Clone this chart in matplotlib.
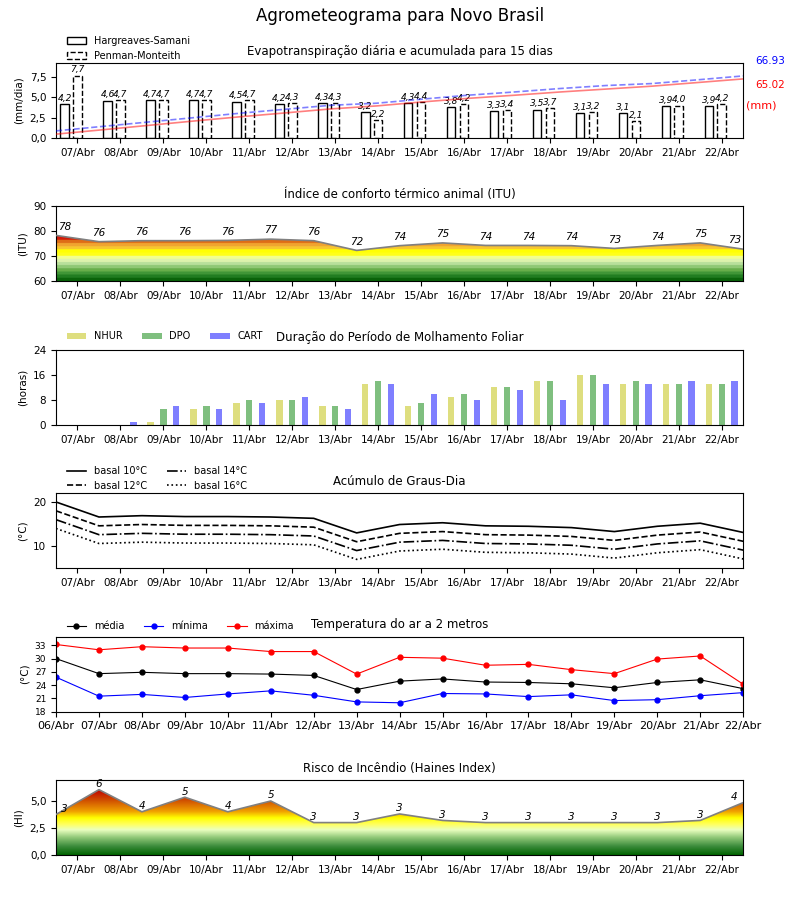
import matplotlib
matplotlib.use('Agg')
import matplotlib.pyplot as plt
import numpy as np
from matplotlib.colors import LinearSegmentedColormap
from matplotlib.patches import Polygon, Patch
from matplotlib.ticker import FuncFormatter

# Datas
datas = ['06/Abr', '07/Abr', '08/Abr', '09/Abr', '10/Abr', '11/Abr', '12/Abr', '13/Abr', '14/Abr',
         '15/Abr', '16/Abr', '17/Abr', '18/Abr', '19/Abr', '20/Abr', '21/Abr', '22/Abr']
dias = datas[1:]

# Evapotranspiracao (mm/dia)
et_hs = [4.2, 4.6, 4.7, 4.7, 4.5, 4.2, 4.3, 3.2, 4.3, 3.8, 3.3, 3.5, 3.1, 3.1, 3.9, 3.9]
et_pm = [7.7, 4.7, 4.7, 4.7, 4.7, 4.3, 4.3, 2.2, 4.4, 4.2, 3.4, 3.7, 3.2, 2.1, 4.0, 4.2]
et_total_hs = 65.02
et_total_pm = 66.93

# ITU
itu = [78.4, 75.9, 76.3, 76.3, 76.4, 76.9, 76.3, 72.4, 74.3, 75.4, 74.4, 74.4, 74.3, 73.2, 74.4, 75.4, 72.9]

# Molhamento foliar (horas)
nhur = [0, 0, 1, 5, 7, 8, 6, 13, 6, 9, 12, 14, 16, 13, 13, 13]
dpo = [0, 0, 5, 6, 8, 8, 6, 14, 7, 10, 12, 14, 16, 14, 13, 13]
cart = [0, 1, 6, 5, 7, 9, 5, 13, 10, 8, 11, 8, 13, 13, 14, 14]

# Graus-dia
gd10 = [20.0, 16.6, 16.9, 16.7, 16.7, 16.6, 16.3, 13.0, 14.9, 15.3, 14.6, 14.5, 14.2, 13.3, 14.5, 15.2, 13.1]
gd12 = [18.0, 14.6, 14.9, 14.7, 14.7, 14.6, 14.3, 11.0, 12.9, 13.3, 12.6, 12.5, 12.2, 11.3, 12.5, 13.2, 11.1]
gd14 = [16.0, 12.6, 12.9, 12.7, 12.7, 12.6, 12.3, 9.0, 10.9, 11.3, 10.6, 10.5, 10.2, 9.3, 10.5, 11.2, 9.1]
gd16 = [14.0, 10.6, 10.9, 10.7, 10.7, 10.6, 10.3, 7.0, 8.9, 9.3, 8.6, 8.5, 8.2, 7.3, 8.5, 9.2, 7.1]

# Temperatura do ar (C)
tmed = [30.0, 26.6, 26.9, 26.6, 26.6, 26.5, 26.2, 23.0, 24.9, 25.4, 24.7, 24.6, 24.3, 23.4, 24.6, 25.2, 23.2]
tmin = [25.8, 21.5, 21.9, 21.2, 22.0, 22.7, 21.7, 20.2, 20.0, 22.1, 22.0, 21.4, 21.8, 20.5, 20.7, 21.6, 22.3]
tmax = [33.2, 32.0, 32.7, 32.4, 32.4, 31.6, 31.6, 26.5, 30.3, 30.1, 28.5, 28.7, 27.5, 26.6, 29.9, 30.6, 24.2]

# Haines
haines = [3.75, 6.05, 4.0, 5.35, 4.0, 5.0, 3.0, 3.0, 3.8, 3.2, 3.0, 3.0, 3.0, 3.0, 3.0, 3.2, 4.85]

virg = FuncFormatter(lambda v, p: f"{v:.1f}".replace('.', ','))


def grad_fill(ax, x, y, y0, y1, cmap):
    verts = [(x[0], y0)] + list(zip(x, y)) + [(x[-1], y0)]
    poly = Polygon(verts, closed=True, facecolor='none', edgecolor='none')
    ax.add_patch(poly)
    g = np.linspace(y0, y1, 256).reshape(-1, 1)
    im = ax.imshow(g, extent=[x[0], x[-1], y0, y1], origin='lower', aspect='auto',
                   cmap=cmap, vmin=y0, vmax=y1, zorder=1)
    im.set_clip_path(poly)
    ax.plot(x, y, color='gray', lw=1.2, zorder=3)


def cmap_from(stops, lo, hi, n):
    pos = [(v - lo) / (hi - lo) for v, c in stops]
    return LinearSegmentedColormap.from_list('c', list(zip(pos, [c for v, c in stops])), N=n)


cmap_itu = cmap_from([(60, '#0a640a'), (62, '#2e8b2e'), (64, '#6ab04c'), (66, '#a8d890'),
                      (67.5, '#d8f0b0'), (69, '#f0ffa0'), (70, '#ffff20'), (72, '#ffff00'),
                      (73, '#f8c830'), (74.5, '#f0a030'), (75.5, '#e07818'), (76.5, '#d83010'),
                      (77.5, '#cc0000'), (90, '#cc0000')], 60, 90, 24)
cmap_hi = cmap_from([(0, '#006400'), (0.8, '#3c8c3c'), (1.6, '#90c878'), (2.3, '#eaffc0'),
                     (2.8, '#ffff60'), (3.4, '#ffff00'), (4.0, '#f0a000'), (5.0, '#d05000'),
                     (6.0, '#c00000'), (7.0, '#c00000')], 0, 7, 256)

fig, axes = plt.subplots(6, 1, figsize=(8, 9), dpi=100)
fig.subplots_adjust(left=0.07, right=0.929, top=0.93, bottom=0.05, hspace=0.91)
fig.suptitle('Agrometeograma para Novo Brasil', fontsize=12, y=0.992)

x16 = np.arange(16)
x17 = np.arange(17)

for ax in axes:
    ax.tick_params(direction='out', top=False, right=False, labelsize=7.5, length=3.5)
    ax.set_xlim(0, 16)
    if ax is not axes[4]:
        ax.set_xticks(x16 + 0.5)
        ax.set_xticklabels(dias)

# 1 - Evapotranspiracao
ax = axes[0]
ax.bar(x16 + 0.2, et_hs, 0.2, facecolor='white', edgecolor='black', lw=1)
ax.bar(x16 + 0.5, et_pm, 0.2, facecolor='white', edgecolor='black', lw=1, linestyle='--')
for i in range(16):
    ax.text(i + 0.2, et_hs[i] + 0.15, f"{et_hs[i]:.1f}".replace('.', ','), ha='center', va='bottom',
            fontsize=6.5, style='italic')
    ax.text(i + 0.5, et_pm[i] + 0.15, f"{et_pm[i]:.1f}".replace('.', ','), ha='center', va='bottom',
            fontsize=6.5, style='italic')
ax.set_ylim(0, max(et_pm) * 1.2)
ax.set_yticks([0, 2.5, 5, 7.5])
ax.yaxis.set_major_formatter(virg)
ax.set_ylabel('(mm/dia)', fontsize=7.5)
ax.set_title('Evapotranspiração diária e acumulada para 15 dias', fontsize=8.5)
ax.legend([Patch(facecolor='white', edgecolor='black'),
           Patch(facecolor='white', edgecolor='black', linestyle='--')],
          ['Hargreaves-Samani', 'Penman-Monteith'], loc='lower left',
          bbox_to_anchor=(0.01, 0.98), borderaxespad=0, frameon=False, fontsize=7)
cum_hs = np.cumsum(et_hs)
cum_pm = np.cumsum(et_pm)
axc = fig.add_axes(ax.get_position(), frameon=False)
axc.plot(x16, cum_hs, color='red', alpha=0.5, lw=1.2)
axc.plot(x16, cum_pm, color='blue', alpha=0.5, lw=1.2, linestyle='--')
axc.set_xlim(0, 15)
axc.set_ylim(0, max(et_total_hs, et_total_pm) * 1.2)
axc.axis('off')
ax.text(1.017, 1.027, f"{et_total_pm:.2f}", color='blue', transform=ax.transAxes, fontsize=7.5, va='center')
ax.text(1.017, 0.703, f"{et_total_hs:.2f}", color='red', transform=ax.transAxes, fontsize=7.5, va='center')
ax.text(1.004, 0.432, '(mm)', color='red', transform=ax.transAxes, fontsize=8, va='center')

# 2 - ITU
ax = axes[1]
grad_fill(ax, x17, itu, 60, 90, cmap_itu)
for i, v in enumerate(itu):
    xi = min(max(i, 0.2), 15.8)
    ax.text(xi, v + 1.5, f"{v:.0f}", ha='center', va='bottom', fontsize=7.5, style='italic')
ax.set_xlim(0, 16)
ax.set_ylim(60, 90)
ax.set_yticks([60, 70, 80, 90])
ax.set_ylabel('(ITU)', fontsize=7.5)
ax.set_title('Índice de conforto térmico animal (ITU)', fontsize=8.5)

# 3 - Molhamento foliar
ax = axes[2]
ax.bar(x16 + 0.2, nhur, 0.15, color='y', alpha=0.5, label='NHUR', lw=0)
ax.bar(x16 + 0.5, dpo, 0.15, color='g', alpha=0.5, label='DPO', lw=0)
ax.bar(x16 + 0.8, cart, 0.15, color='b', alpha=0.5, label='CART', lw=0)
ax.set_ylim(0, 24)
ax.set_yticks([0, 8, 16, 24])
ax.set_ylabel('(horas)', fontsize=7.5)
ax.set_title('Duração do Período de Molhamento Foliar', fontsize=8.5)
ax.legend(loc='lower left', bbox_to_anchor=(0.01, 1.06), borderaxespad=0, frameon=False,
          fontsize=7, ncol=3)

# 4 - Graus-dia
ax = axes[3]
ax.plot(x17, gd10, 'k-', lw=1.2, label='basal 10°C')
ax.plot(x17, gd12, 'k--', lw=1.2, label='basal 12°C')
ax.plot(x17, gd14, 'k-.', lw=1.2, label='basal 14°C')
ax.plot(x17, gd16, 'k:', lw=1.2, label='basal 16°C')
ax.set_ylim(5, 22)
ax.set_yticks([10, 20])
ax.set_ylabel('(°C)', fontsize=7.5)
ax.set_title('Acúmulo de Graus-Dia', fontsize=8.5)
ax.legend(loc='lower left', bbox_to_anchor=(0.01, 0.98), borderaxespad=0, frameon=False,
          fontsize=7, ncol=2)

# 5 - Temperatura
ax = axes[4]
ax.plot(x17, tmed, 'k-', marker='o', ms=3.5, lw=0.8, label='média')
ax.plot(x17, tmin, 'b-', marker='o', ms=3.5, lw=0.8, label='mínima')
ax.plot(x17, tmax, 'r-', marker='o', ms=3.5, lw=0.8, label='máxima')
ax.set_xticks(x17)
ax.set_xticklabels(datas, fontsize=8)
ax.set_ylim(18, 35)
ax.set_yticks([18, 21, 24, 27, 30, 33])
ax.tick_params(axis='y', labelsize=6.5)
ax.set_ylabel('(°C)', fontsize=7.5)
ax.set_title('Temperatura do ar a 2 metros', fontsize=8.5)
ax.legend(loc='lower left', bbox_to_anchor=(0.01, 1.02), borderaxespad=0, frameon=False,
          fontsize=7, ncol=3)

# 6 - Haines
ax = axes[5]
grad_fill(ax, x17, haines, 0, 7, cmap_hi)
for i, v in enumerate(haines):
    xi = min(max(i, 0.2), 15.8)
    ax.text(xi, v + 0.05, f"{int(v)}", ha='center', va='bottom', fontsize=7.5, style='italic')
ax.set_xlim(0, 16)
ax.set_ylim(0, 6.95)
ax.set_yticks([0, 2.5, 5])
ax.yaxis.set_major_formatter(virg)
ax.set_ylabel('(HI)', fontsize=7.5)
ax.set_title('Risco de Incêndio (Haines Index)', fontsize=8.5)

fig.savefig('out.png', dpi=100)
